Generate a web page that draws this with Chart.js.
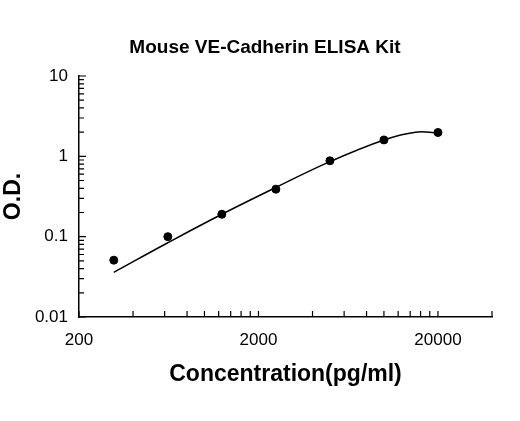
<!DOCTYPE html><html><head><meta charset="utf-8">
<script src="https://cdn.jsdelivr.net/npm/chart.js@4"></script>
<style>html,body{margin:0;background:#fff}#w{width:520px;height:421px}</style></head>
<body><div id="w"><canvas id="c"></canvas></div><script>
const concentrations=[312.5,625,1250,2500,5000,10000,20000];
const odValues=[0.051,0.1,0.19,0.39,0.88,1.6,1.98];
const fitX=[312.5,625,1250,2500,5000,10000,15000,20000];
const fitY=[0.036,0.084,0.19,0.41,0.86,1.6,2.0,1.95];
const xLabels=[200,2000,20000];
const yLabels=[0.01,0.1,1,10];
const chartTitle='Mouse VE-Cadherin ELISA Kit';
const xTickVals=[200,400,600,800,1000,1200,1400,1600,1800,2000,4000,6000,8000,10000,12000,14000,16000,18000,20000,40000];
const yTickVals=[];[0.01,0.1,1].forEach(d=>{for(let k=1;k<=9;k++)yTickVals.push(d*k);});yTickVals.push(10);
const F="'Liberation Sans', Arial, sans-serif";
const tickPlugin={id:'tk',afterDraw(ch){const c=ch.ctx,x=ch.scales.x,y=ch.scales.y,a=ch.chartArea;c.save();c.strokeStyle='#000';c.lineWidth=1.2;c.beginPath();
xTickVals.forEach(v=>{const p=x.getPixelForValue(v);c.moveTo(p,a.bottom);c.lineTo(p,a.bottom-6);});
yTickVals.forEach(v=>{const p=y.getPixelForValue(v);const L=yLabels.some(m=>Math.abs(m-v)<1e-9)?7:5;c.moveTo(a.left,p);c.lineTo(a.left+L,p);});
c.stroke();
c.fillStyle='#000';c.font="bold 19px "+F;c.textAlign='center';c.textBaseline='middle';c.fillText(chartTitle,265,48);
c.restore();}};
new Chart(document.getElementById('c'),{type:'scatter',
data:{datasets:[
{data:concentrations.map((v,i)=>({x:v,y:odValues[i]})),pointRadius:4,pointBackgroundColor:'#000',pointBorderColor:'#000',showLine:false},
{data:fitX.map((v,i)=>({x:v,y:fitY[i]})),showLine:true,pointRadius:0,borderColor:'#000',borderWidth:1.5,tension:0.4,fill:false}]},
options:{responsive:true,maintainAspectRatio:false,animation:false,
layout:{padding:{left:0,right:28,top:76,bottom:30}},
plugins:{legend:{display:false},tooltip:{enabled:false},title:{display:false}},
scales:{
x:{type:'logarithmic',min:200,max:40000,grid:{display:false,drawTicks:false},border:{color:'#000',width:1.5},
afterBuildTicks:s=>{s.ticks=xLabels.map(v=>({value:v}));},
afterFit:s=>{s.height=74;},
ticks:{color:'#000',padding:13,font:{family:F,size:17},autoSkip:false,maxRotation:0,callback:v=>String(v)},
title:{display:true,text:'Concentration(pg/ml)',color:'#000',font:{family:F,size:23,weight:'bold'},padding:{top:4,bottom:3}}},
y:{type:'logarithmic',min:0.01,max:10,grid:{display:false,drawTicks:false},border:{color:'#000',width:1.5},
afterBuildTicks:s=>{s.ticks=yLabels.map(v=>({value:v}));},
afterFit:s=>{s.width=79;},
ticks:{color:'#000',padding:11,font:{family:F,size:17},autoSkip:false,callback:v=>String(v)},
title:{display:true,text:'O.D.',color:'#000',font:{family:F,size:23,weight:'bold'},padding:{top:0,bottom:4}}}}},
plugins:[tickPlugin]});
</script></body></html>
